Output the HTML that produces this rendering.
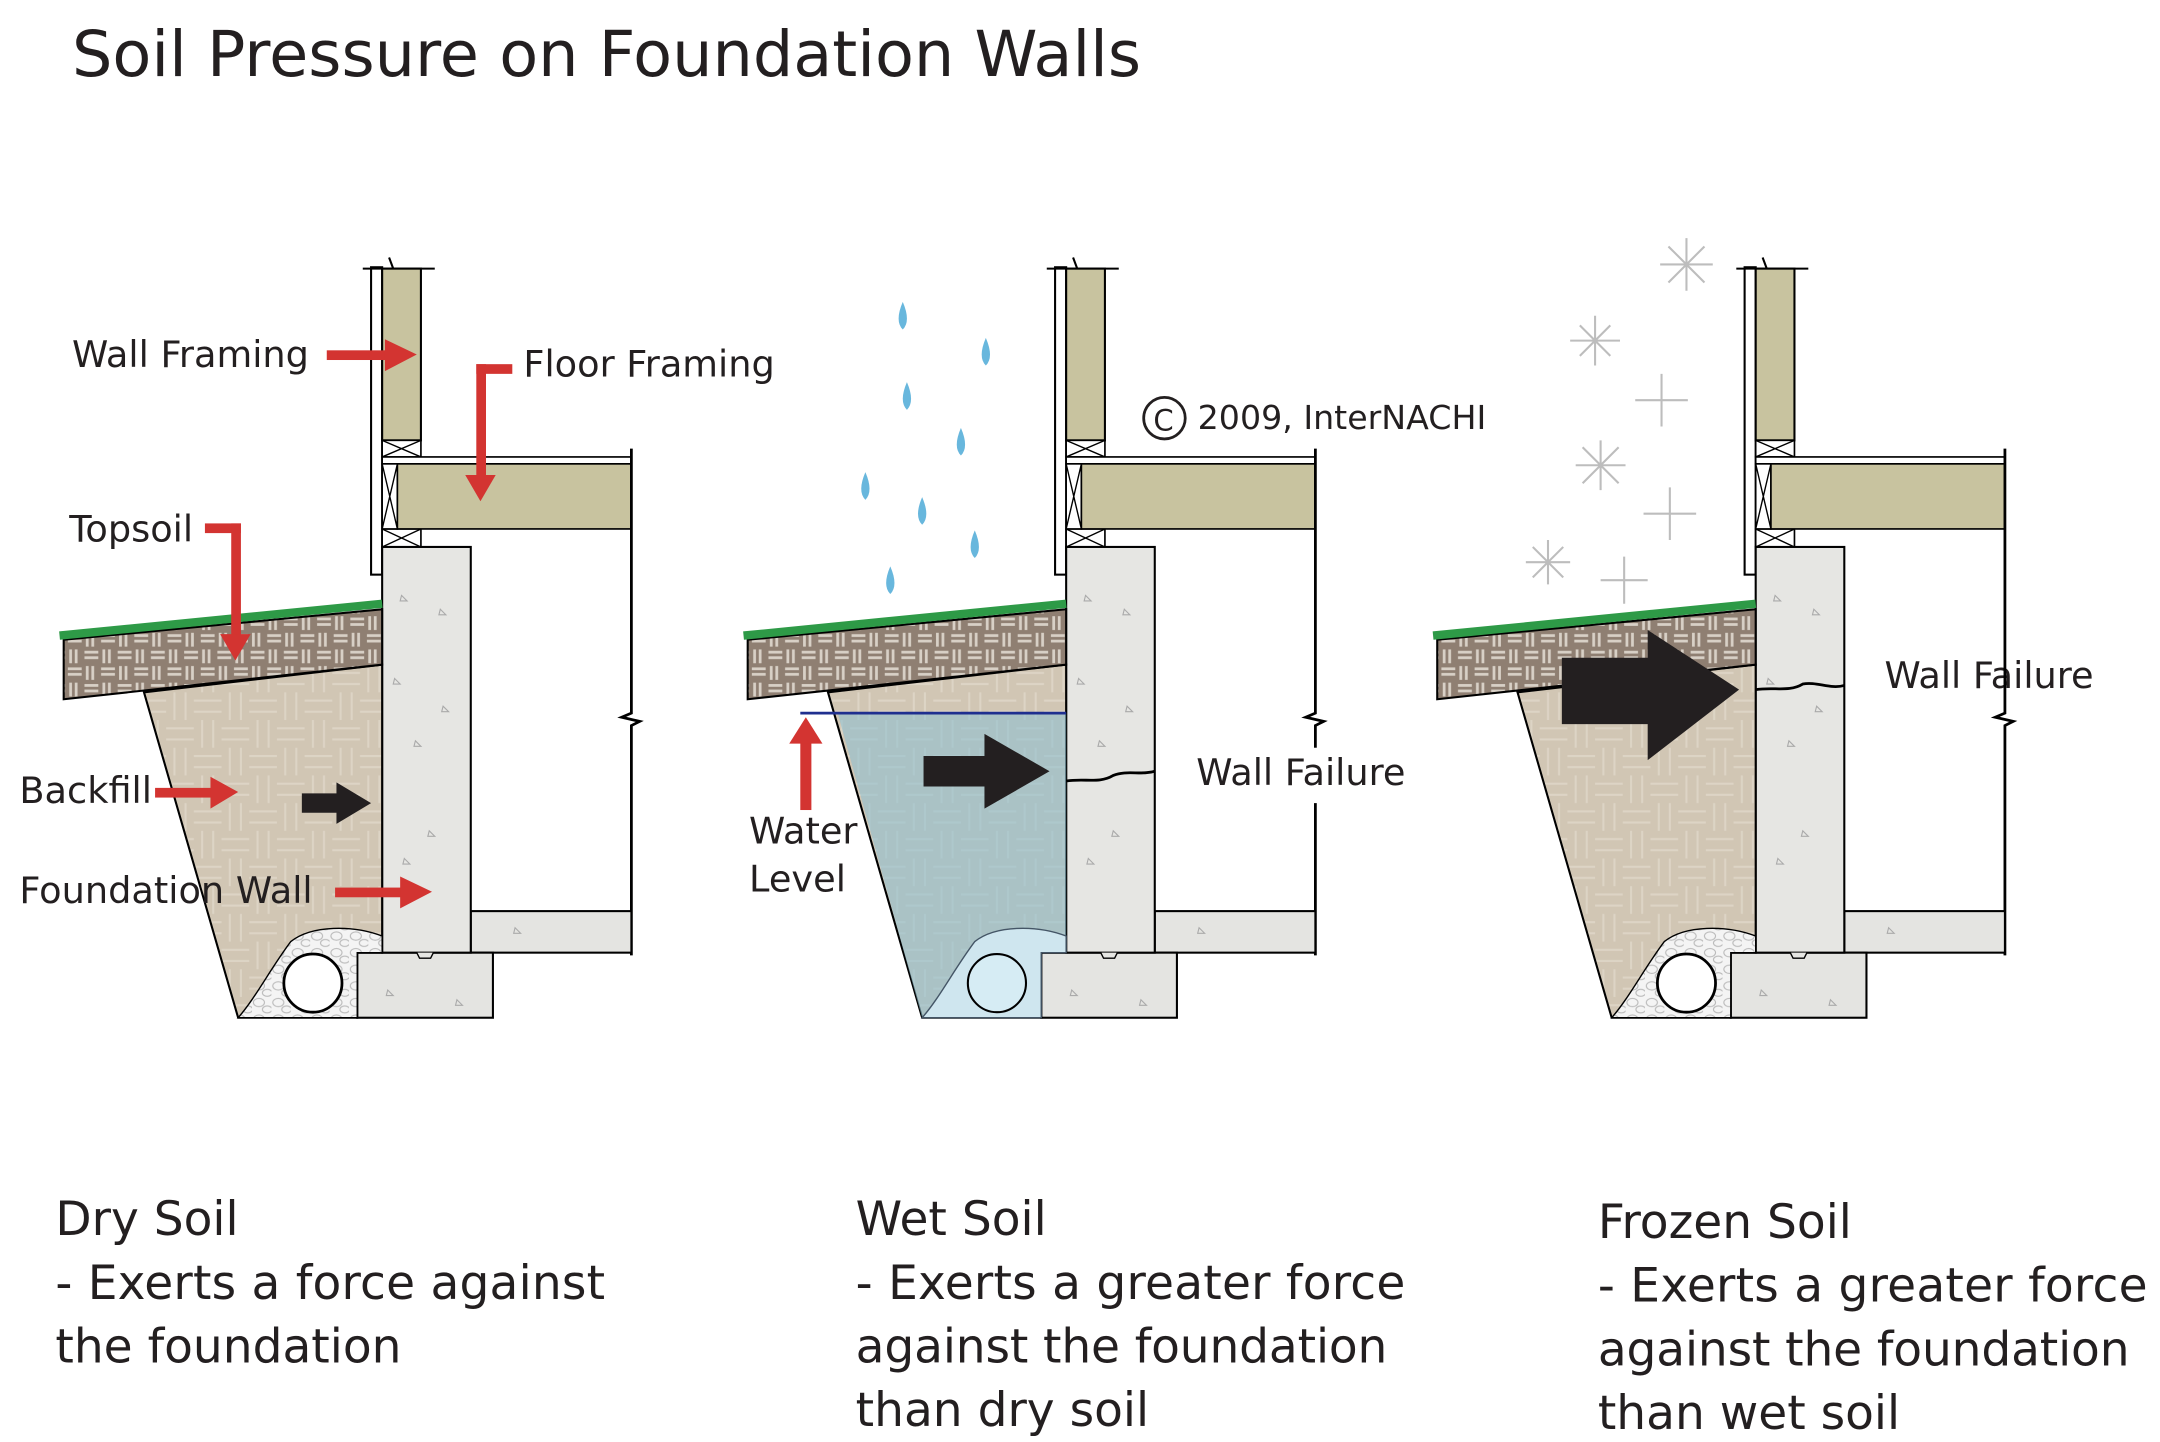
<!DOCTYPE html>
<html><head><meta charset="utf-8"><style>
html,body{margin:0;padding:0;background:#fff}
svg{display:block}
text{font-family:"DejaVu Sans","Liberation Sans",sans-serif;fill:#231f20}
</style></head><body>
<svg width="2160" height="1442" viewBox="0 0 1560 1041.4" preserveAspectRatio="none" xmlns="http://www.w3.org/2000/svg">
<defs>
<pattern id="top" width="24" height="24" patternUnits="userSpaceOnUse">
<rect width="24" height="24" fill="#8f7f72"/>
<g stroke="#d8d0c6" stroke-width="2">
<line x1="1" y1="3" x2="11" y2="3"/><line x1="1" y1="7" x2="11" y2="7"/>
<line x1="15" y1="1" x2="15" y2="11"/><line x1="19" y1="1" x2="19" y2="11"/>
<line x1="3" y1="13" x2="3" y2="23"/><line x1="7" y1="13" x2="7" y2="23"/>
<line x1="13" y1="15" x2="23" y2="15"/><line x1="13" y1="19" x2="23" y2="19"/>
</g></pattern>
<pattern id="fill" width="40" height="40" patternUnits="userSpaceOnUse">
<rect width="40" height="40" fill="#d1c6b4"/>
<g stroke="#ddd4c5" stroke-width="1.5">
<line x1="0" y1="6" x2="20" y2="6"/><line x1="0" y1="14" x2="20" y2="14"/>
<line x1="26" y1="0" x2="26" y2="20"/><line x1="34" y1="0" x2="34" y2="20"/>
<line x1="6" y1="20" x2="6" y2="40"/><line x1="14" y1="20" x2="14" y2="40"/>
<line x1="20" y1="26" x2="40" y2="26"/><line x1="20" y1="34" x2="40" y2="34"/>
</g></pattern>
<pattern id="grav" width="14" height="12" patternUnits="userSpaceOnUse">
<rect width="14" height="12" fill="#f4f4f4"/>
<ellipse cx="5" cy="4" rx="4" ry="3" fill="none" stroke="#bbb" stroke-width="0.8"/>
<ellipse cx="11" cy="9" rx="3.5" ry="2.5" fill="none" stroke="#bbb" stroke-width="0.8"/>
</pattern>
<g id="base">
<rect x="268" y="193" width="8" height="222" fill="#fff" stroke="#000" stroke-width="1.5"/>
<line x1="262" y1="194" x2="314" y2="194" stroke="#000" stroke-width="1.5"/>
<path d="M281 186 L284 194 L281 198" fill="none" stroke="#000" stroke-width="1.5"/>
<rect x="276" y="194" width="28" height="124" fill="#c8c39f" stroke="#000" stroke-width="1.5"/>
<rect x="276" y="318" width="28" height="12" fill="#fff" stroke="#000" stroke-width="1.2"/>
<path d="M276 318 L304 330 M304 318 L276 330" stroke="#000"/>
<rect x="276" y="382" width="28" height="13" fill="#fff" stroke="#000" stroke-width="1.2"/>
<path d="M276 382 L304 395 M304 382 L276 395" stroke="#000"/>
<rect x="276" y="330" width="180" height="5" fill="#fff" stroke="#000" stroke-width="1.2"/>
<rect x="276" y="335" width="11" height="47" fill="#fff" stroke="#000" stroke-width="1.2"/>
<path d="M276 335 L287 382 M287 335 L276 382" stroke="#000"/>
<rect x="287" y="335" width="169" height="47" fill="#c8c39f" stroke="#000" stroke-width="1.2"/>
<path d="M456 324 L456 515 L449 518 L462 521 L456 524 L456 690" fill="none" stroke="#000" stroke-width="2"/>
<rect x="340" y="658" width="116" height="30" fill="#e4e4e1" stroke="#000" stroke-width="1.5"/>
<rect x="258" y="688" width="98" height="47" fill="#e4e4e1" stroke="#000" stroke-width="1.5"/>
<rect x="276" y="395" width="64" height="293" fill="#e6e6e3" stroke="#000" stroke-width="1.5"/>
<path d="M301 688 L303 692 L311 692 L313 688" fill="#e6e6e3" stroke="#000"/>
<g fill="none" stroke="#aaa" stroke-width="0.8">
<path d="M290 430 l4 4 h-5z"/><path d="M318 440 l4 4 h-5z"/><path d="M285 490 l4 4 h-5z"/><path d="M300 535 l4 4 h-5z"/><path d="M310 600 l4 4 h-5z"/><path d="M292 620 l4 4 h-5z"/><path d="M320 510 l4 4 h-5z"/><path d="M372 670 l4 4 h-5z"/><path d="M280 715 l4 4 h-5z"/><path d="M330 722 l4 4 h-5z"/>
</g>
<polygon points="104,500 276,480 276,688 258,688 258,735 172,735" fill="url(#fill)" stroke="#000" stroke-width="1.5"/>
<polygon points="46,462 276,440 276,480 46,505" fill="url(#top)" stroke="#000" stroke-width="1.5"/>
<line x1="43" y1="459" x2="276" y2="436" stroke="#2e9a47" stroke-width="6"/>
</g>
<g id="gravel">
<path d="M172 735 C185 720 195 700 210 680 C225 668 255 668 276 676 L276 688 L258 688 L258 735 Z" fill="url(#grav)" stroke="#000" stroke-width="1"/>
</g>
</defs>

<text x="52" y="55" font-size="46">Soil Pressure on Foundation Walls</text>

<use href="#base"/>
<use href="#gravel"/>
<circle cx="226" cy="710" r="21" fill="#fff" stroke="#000" stroke-width="2"/>
<polygon points="218,573 243,573 243,565 268,580 243,595 243,587 218,587" fill="#231f20"/>

<g fill="#d33431">
<rect x="236" y="253" width="45" height="7"/><polygon points="278,245 301,256 278,268"/>
<rect x="344" y="263" width="26" height="7"/><rect x="344" y="263" width="7" height="85"/><polygon points="336,343 347,362 358,343"/>
<rect x="148" y="378" width="26" height="7"/><rect x="167" y="378" width="7" height="85"/><polygon points="159,458 170,477 181,458"/>
<rect x="112" y="569" width="44" height="7"/><polygon points="152,561 172,572 152,584"/>
<rect x="242" y="641" width="50" height="7"/><polygon points="289,633 312,644 289,656"/>
</g>
<g font-size="26.5">
<text x="52" y="265">Wall Framing</text>
<text x="378" y="272">Floor Framing</text>
<text x="50" y="391">Topsoil</text>
<text x="14" y="580">Backfill</text>
<text x="14" y="652">Foundation Wall</text>
</g>

<g transform="translate(494,0)">
<use href="#base"/>
<polygon points="276,515 276,688 258,688 258,735 172,735 111,515" fill="#8fbfd0" fill-opacity="0.6"/>
<path d="M172 735 C185 720 195 700 210 680 C225 668 255 668 276 676 L276 688 L258 688 L258 735 Z" fill="#cfe6ef" stroke="#456" stroke-width="1"/>
<circle cx="226" cy="710" r="21" fill="#d6ecf4" stroke="#000" stroke-width="1.5"/>
<line x1="84" y1="515" x2="276" y2="515" stroke="#1f2f8f" stroke-width="2"/>
<polygon points="173,546 217,546 217,530 264,557 217,584 217,568 173,568" fill="#231f20"/>
<path d="M276 564 C290 562 300 566 310 560 C320 556 330 560 340 557" fill="none" stroke="#000" stroke-width="2"/>
</g>
<g fill="#d33431"><rect x="578" y="535" width="8" height="50"/><polygon points="570,537 582,518 594,537"/></g>
<g font-size="26.5">
<text x="541" y="609">Water</text>
<text x="541" y="644">Level</text>
<rect x="860" y="540" width="160" height="40" fill="#fff"/>
<text x="864" y="567">Wall Failure</text>
<rect x="1356" y="470" width="162" height="40" fill="#fff"/>
<text x="1361" y="497">Wall Failure</text>
</g>
<g fill="#68b7dd">
<path d="M652 218 q-6 14 0 20 q6 -6 0 -20z"/><path d="M712 244 q-6 14 0 20 q6 -6 0 -20z"/><path d="M655 276 q-6 14 0 20 q6 -6 0 -20z"/><path d="M694 309 q-6 14 0 20 q6 -6 0 -20z"/><path d="M625 341 q-6 14 0 20 q6 -6 0 -20z"/><path d="M666 359 q-6 14 0 20 q6 -6 0 -20z"/><path d="M704 383 q-6 14 0 20 q6 -6 0 -20z"/><path d="M643 409 q-6 14 0 20 q6 -6 0 -20z"/>
</g>
<circle cx="841" cy="302" r="15" fill="none" stroke="#231f20" stroke-width="2"/>
<text x="833" y="311" font-size="21">C</text>
<text x="865" y="310" font-size="24">2009, InterNACHI</text>

<g transform="translate(992,0)">
<use href="#base"/>
<use href="#gravel"/>
<circle cx="226" cy="710" r="21" fill="#fff" stroke="#000" stroke-width="2"/>
<polygon points="136,475 198,475 198,455 264,498 198,549 198,523 136,523" fill="#231f20"/>
<path d="M276 498 C290 496 300 500 310 494 C320 492 330 498 340 495" fill="none" stroke="#000" stroke-width="2"/>
</g>
<g stroke="#bdbdbd" stroke-width="1.5">
<path d="M1218 172 v38 M1199 191 h38 M1205 178 l26 26 M1231 178 l-26 26"/>
<path d="M1152 228 v36 M1134 246 h36 M1141 235 l22 22 M1163 235 l-22 22"/>
<path d="M1200 270 v38 M1181 289 h38"/>
<path d="M1156 318 v36 M1138 336 h36 M1143 323 l26 26 M1169 323 l-26 26"/>
<path d="M1206 352 v38 M1187 371 h38"/>
<path d="M1118 390 v32 M1102 406 h32 M1107 395 l22 22 M1129 395 l-22 22"/>
<path d="M1173 402 v34 M1156 419 h34"/>
</g>

<g font-size="34">
<text x="40" y="892">Dry Soil</text>
<text x="40" y="938" textLength="397">- Exerts a force against</text>
<text x="40" y="984">the foundation</text>
<text x="618" y="892">Wet Soil</text>
<text x="618" y="938" textLength="397">- Exerts a greater force</text>
<text x="618" y="984" textLength="384">against the foundation</text>
<text x="618" y="1030">than dry soil</text>
<text x="1154" y="894">Frozen Soil</text>
<text x="1154" y="940" textLength="397">- Exerts a greater force</text>
<text x="1154" y="986" textLength="384">against the foundation</text>
<text x="1154" y="1032">than wet soil</text>
</g>
</svg>
</body></html>
